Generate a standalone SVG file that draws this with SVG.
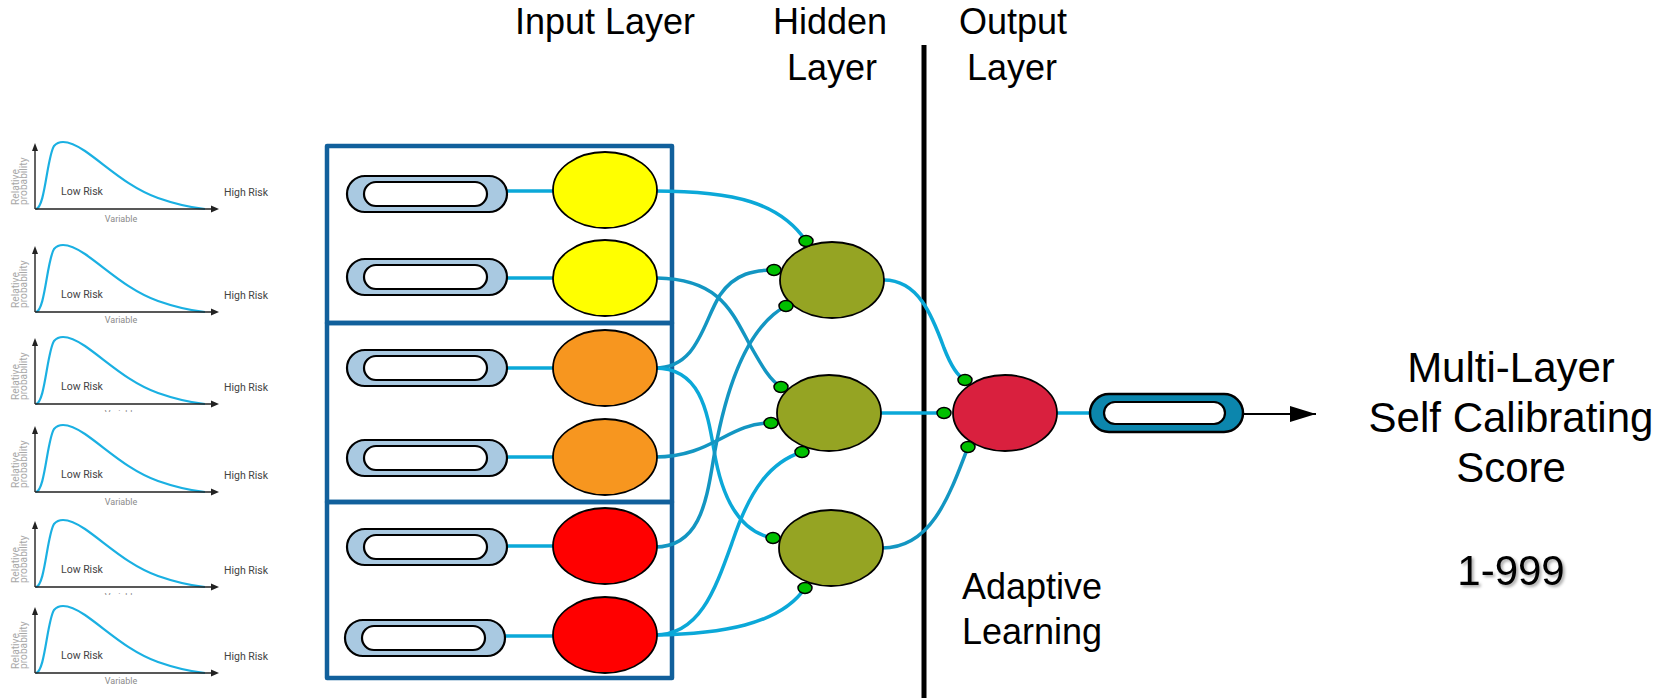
<svg xmlns="http://www.w3.org/2000/svg" width="1664" height="698" viewBox="0 0 1664 698">
<style>
.curve{fill:none;stroke:#1ab0e2;stroke-width:2.2}
.axis{fill:none;stroke:#222;stroke-width:1.4}
.ahead{fill:#222}
.risk{font-family:Roboto,"Liberation Sans",sans-serif;font-size:10.5px;fill:#444}
.var{font-family:Roboto,"Liberation Sans",sans-serif;font-size:9px;fill:#8a8a8a;text-anchor:middle}
.rel{font-family:Roboto,"Liberation Sans",sans-serif;font-size:10.2px;fill:#a8a8a8}
.box{fill:none;stroke:#11609c;stroke-width:4.5;stroke-linejoin:round}
.pill{fill:#a9c9e1;stroke:#000;stroke-width:2.2}
.pin{fill:#fff;stroke:#000;stroke-width:2.2}
.node{stroke:#000;stroke-width:1.8}
.yel{fill:#ffff00}.ora{fill:#f7961f}.red{fill:#ff0000}
.hid{fill:#95a423}.out{fill:#d9203e}
.dot{fill:#00c000;stroke:#000;stroke-width:1.5}
.wire{fill:none;stroke:#0ba8d8;stroke-width:3.5}
.wire2{fill:none;stroke:#1396c2;stroke-width:3.5}
.lbl{font-family:"Liberation Sans",Arial,sans-serif;font-size:36px;fill:#000;text-anchor:middle}
.big{font-family:"Liberation Sans",Arial,sans-serif;font-size:42px;fill:#000;text-anchor:middle}
</style>
<defs>
<clipPath id="cut"><rect x="0" y="-80" width="300" height="88"/></clipPath>
<filter id="shadow" x="-10%" y="-10%" width="130%" height="140%"><feDropShadow dx="2" dy="2" stdDeviation="1.5" flood-color="#000" flood-opacity="0.35"/></filter>
<marker id="arr" markerWidth="26" markerHeight="16" refX="26" refY="8" orient="auto" markerUnits="userSpaceOnUse"><path d="M0,0 L26,8 L0,16 Z" fill="#000"/></marker>
</defs>

<!-- charts -->
<g id="chart1" transform="translate(0,209)">
<path class="curve" d="M36,0 C45,-1 47,-52 54,-63 C60,-70 70,-68 85,-58 C108,-42 128,-22 158,-11 C178,-4 195,-1 205,0"/>
<path class="axis" d="M35,0 V-60 M35,0 H213"/>
<path class="ahead" d="M32,-58 L35,-66 L38,-58 Z M211,-3.5 L219,0 L211,3.5 Z"/>
<text class="risk" x="61" y="-14">Low Risk</text>
<text class="risk" x="224" y="-13">High Risk</text>
<text class="var" x="121" y="13">Variable</text>
<text class="rel" transform="translate(19,-4) rotate(-90)">Relative</text>
<text class="rel" transform="translate(27,-4) rotate(-90)">probability</text>
</g>
<g id="chart2" transform="translate(0,312)">
<path class="curve" d="M36,0 C45,-1 47,-52 54,-63 C60,-70 70,-68 85,-58 C108,-42 128,-22 158,-11 C178,-4 195,-1 205,0"/>
<path class="axis" d="M35,0 V-60 M35,0 H213"/>
<path class="ahead" d="M32,-58 L35,-66 L38,-58 Z M211,-3.5 L219,0 L211,3.5 Z"/>
<text class="risk" x="61" y="-14">Low Risk</text>
<text class="risk" x="224" y="-13">High Risk</text>
<text class="var" x="121" y="11">Variable</text>
<text class="rel" transform="translate(19,-4) rotate(-90)">Relative</text>
<text class="rel" transform="translate(27,-4) rotate(-90)">probability</text>
</g>
<g id="chart3" transform="translate(0,404)">
<g clip-path="url(#cut)">
<path class="curve" d="M36,0 C45,-1 47,-52 54,-63 C60,-70 70,-68 85,-58 C108,-42 128,-22 158,-11 C178,-4 195,-1 205,0"/>
<path class="axis" d="M35,0 V-60 M35,0 H213"/>
<path class="ahead" d="M32,-58 L35,-66 L38,-58 Z M211,-3.5 L219,0 L211,3.5 Z"/>
<text class="risk" x="61" y="-14">Low Risk</text>
<text class="risk" x="224" y="-13">High Risk</text>
<text class="var" x="121" y="13">Variable</text>
<text class="rel" transform="translate(19,-4) rotate(-90)">Relative</text>
<text class="rel" transform="translate(27,-4) rotate(-90)">probability</text>
</g>
</g>
<g id="chart4" transform="translate(0,492)">
<path class="curve" d="M36,0 C45,-1 47,-52 54,-63 C60,-70 70,-68 85,-58 C108,-42 128,-22 158,-11 C178,-4 195,-1 205,0"/>
<path class="axis" d="M35,0 V-60 M35,0 H213"/>
<path class="ahead" d="M32,-58 L35,-66 L38,-58 Z M211,-3.5 L219,0 L211,3.5 Z"/>
<text class="risk" x="61" y="-14">Low Risk</text>
<text class="risk" x="224" y="-13">High Risk</text>
<text class="var" x="121" y="13">Variable</text>
<text class="rel" transform="translate(19,-4) rotate(-90)">Relative</text>
<text class="rel" transform="translate(27,-4) rotate(-90)">probability</text>
</g>
<g id="chart5" transform="translate(0,587)">
<g clip-path="url(#cut)">
<path class="curve" d="M36,0 C45,-1 47,-52 54,-63 C60,-70 70,-68 85,-58 C108,-42 128,-22 158,-11 C178,-4 195,-1 205,0"/>
<path class="axis" d="M35,0 V-60 M35,0 H213"/>
<path class="ahead" d="M32,-58 L35,-66 L38,-58 Z M211,-3.5 L219,0 L211,3.5 Z"/>
<text class="risk" x="61" y="-14">Low Risk</text>
<text class="risk" x="224" y="-13">High Risk</text>
<text class="var" x="121" y="13">Variable</text>
<text class="rel" transform="translate(19,-4) rotate(-90)">Relative</text>
<text class="rel" transform="translate(27,-4) rotate(-90)">probability</text>
</g>
</g>
<g id="chart6" transform="translate(0,673)">
<path class="curve" d="M36,0 C45,-1 47,-52 54,-63 C60,-70 70,-68 85,-58 C108,-42 128,-22 158,-11 C178,-4 195,-1 205,0"/>
<path class="axis" d="M35,0 V-60 M35,0 H213"/>
<path class="ahead" d="M32,-58 L35,-66 L38,-58 Z M211,-3.5 L219,0 L211,3.5 Z"/>
<text class="risk" x="61" y="-14">Low Risk</text>
<text class="risk" x="224" y="-13">High Risk</text>
<text class="var" x="121" y="11">Variable</text>
<text class="rel" transform="translate(19,-4) rotate(-90)">Relative</text>
<text class="rel" transform="translate(27,-4) rotate(-90)">probability</text>
</g>

<!-- headers -->
<g id="headers">
<text class="lbl" x="605" y="34">Input Layer</text>
<text class="lbl" x="830" y="34">Hidden</text>
<text class="lbl" x="832" y="80">Layer</text>
<text class="lbl" x="1013" y="34">Output</text>
<text class="lbl" x="1012" y="80">Layer</text>
</g>

<!-- divider -->
<g id="divider"><line x1="924" y1="45" x2="924" y2="698" stroke="#000" stroke-width="5"/></g>

<!-- input groups -->
<g id="group1"><rect class="box" x="327" y="146" width="345" height="177"/></g>
<g id="group2"><rect class="box" x="327" y="323" width="345" height="179"/></g>
<g id="group3"><rect class="box" x="327" y="502" width="345" height="176"/></g>

<!-- connectors -->
<g id="connectors">
<path class="wire" d="M505,191 H555"/>
<path class="wire" d="M505,278 H555"/>
<path class="wire" d="M505,368 H555"/>
<path class="wire" d="M505,457 H555"/>
<path class="wire" d="M505,546 H555"/>
<path class="wire" d="M503,636 H555"/>
<path class="wire" d="M655,191 C735,191 780,203 806,241"/>
<path class="wire2" d="M657,278 C720,279 732,312 750,345 C763,368 770,380 781,387"/>
<path class="wire2" d="M655,368 C698,368 703,322 720,295 C735,273 755,270 774,270"/>
<path class="wire" d="M655,368 C700,368 707,410 714,450 C722,500 740,532 773,538"/>
<path class="wire2" d="M655,457 C712,457 728,423 771,423"/>
<path class="wire2" d="M655,547 C698,547 706,505 713,462 C724,395 745,328 786,306"/>
<path class="wire" d="M655,635 C700,635 715,590 733,540 C750,490 770,462 802,452"/>
<path class="wire" d="M655,635 C720,634 780,625 805,588"/>
<path class="wire" d="M884,280 C918,280 932,315 944,348 C951,366 957,376 965,380"/>
<path class="wire" d="M881,413 H944"/>
<path class="wire2" d="M882,548 C930,548 948,500 968,447"/>
<path class="wire" d="M1057,413 H1090"/>
<path d="M1243,414 H1316" stroke="#000" stroke-width="2" fill="none" marker-end="url(#arr)"/>
</g>

<!-- input pills -->
<g id="in1"><rect class="pill" x="347" y="176" width="160" height="36" rx="18"/><rect class="pin" x="364" y="182" width="123" height="24" rx="12"/></g>
<g id="in2"><rect class="pill" x="347" y="259" width="160" height="36" rx="18"/><rect class="pin" x="364" y="265" width="123" height="24" rx="12"/></g>
<g id="in3"><rect class="pill" x="347" y="350" width="160" height="36" rx="18"/><rect class="pin" x="364" y="356" width="123" height="24" rx="12"/></g>
<g id="in4"><rect class="pill" x="347" y="440" width="160" height="36" rx="18"/><rect class="pin" x="364" y="446" width="123" height="24" rx="12"/></g>
<g id="in5"><rect class="pill" x="347" y="529" width="160" height="36" rx="18"/><rect class="pin" x="364" y="535" width="123" height="24" rx="12"/></g>
<g id="in6"><rect class="pill" x="345" y="620" width="160" height="36" rx="18"/><rect class="pin" x="362" y="626" width="123" height="24" rx="12"/></g>

<!-- input nodes -->
<g id="n1"><ellipse class="node yel" cx="605" cy="190" rx="52" ry="38"/></g>
<g id="n2"><ellipse class="node yel" cx="605" cy="278" rx="52" ry="38"/></g>
<g id="n3"><ellipse class="node ora" cx="605" cy="368" rx="52" ry="38"/></g>
<g id="n4"><ellipse class="node ora" cx="605" cy="457" rx="52" ry="38"/></g>
<g id="n5"><ellipse class="node red" cx="605" cy="546" rx="52" ry="38"/></g>
<g id="n6"><ellipse class="node red" cx="605" cy="635" rx="52" ry="38"/></g>

<!-- hidden nodes -->
<g id="h1"><ellipse class="node hid" cx="832" cy="280" rx="52" ry="38"/>
<ellipse class="dot" cx="806" cy="241" rx="7" ry="5.5"/><ellipse class="dot" cx="774" cy="270" rx="7" ry="5.5"/><ellipse class="dot" cx="786" cy="306" rx="7" ry="5.5"/></g>
<g id="h2"><ellipse class="node hid" cx="829" cy="413" rx="52" ry="38"/>
<ellipse class="dot" cx="781" cy="387" rx="7" ry="5.5"/><ellipse class="dot" cx="771" cy="423" rx="7" ry="5.5"/><ellipse class="dot" cx="802" cy="452" rx="7" ry="5.5"/></g>
<g id="h3"><ellipse class="node hid" cx="831" cy="548" rx="52" ry="38"/>
<ellipse class="dot" cx="773" cy="538" rx="7" ry="5.5"/><ellipse class="dot" cx="805" cy="588" rx="7" ry="5.5"/></g>

<!-- output node -->
<g id="out"><ellipse class="node out" cx="1005" cy="413" rx="52" ry="38"/>
<ellipse class="dot" cx="965" cy="380" rx="7" ry="5.5"/><ellipse class="dot" cx="944" cy="413" rx="7" ry="5.5"/><ellipse class="dot" cx="968" cy="447" rx="7" ry="5.5"/></g>

<g id="outpill"><rect x="1090" y="394" width="153" height="38" rx="19" fill="#0c86ad" stroke="#000" stroke-width="2.5"/><rect class="pin" x="1104" y="402" width="121" height="22" rx="11"/></g>

<!-- labels -->
<g id="adaptive">
<text class="lbl" x="1032" y="599">Adaptive</text>
<text class="lbl" x="1032" y="644">Learning</text>
</g>
<g id="score">
<text class="big" x="1511" y="382">Multi-Layer</text>
<text class="big" x="1511" y="432">Self Calibrating</text>
<text class="big" x="1511" y="482">Score</text>
<text class="big" x="1511" y="585" filter="url(#shadow)">1-999</text>
</g>
</svg>
